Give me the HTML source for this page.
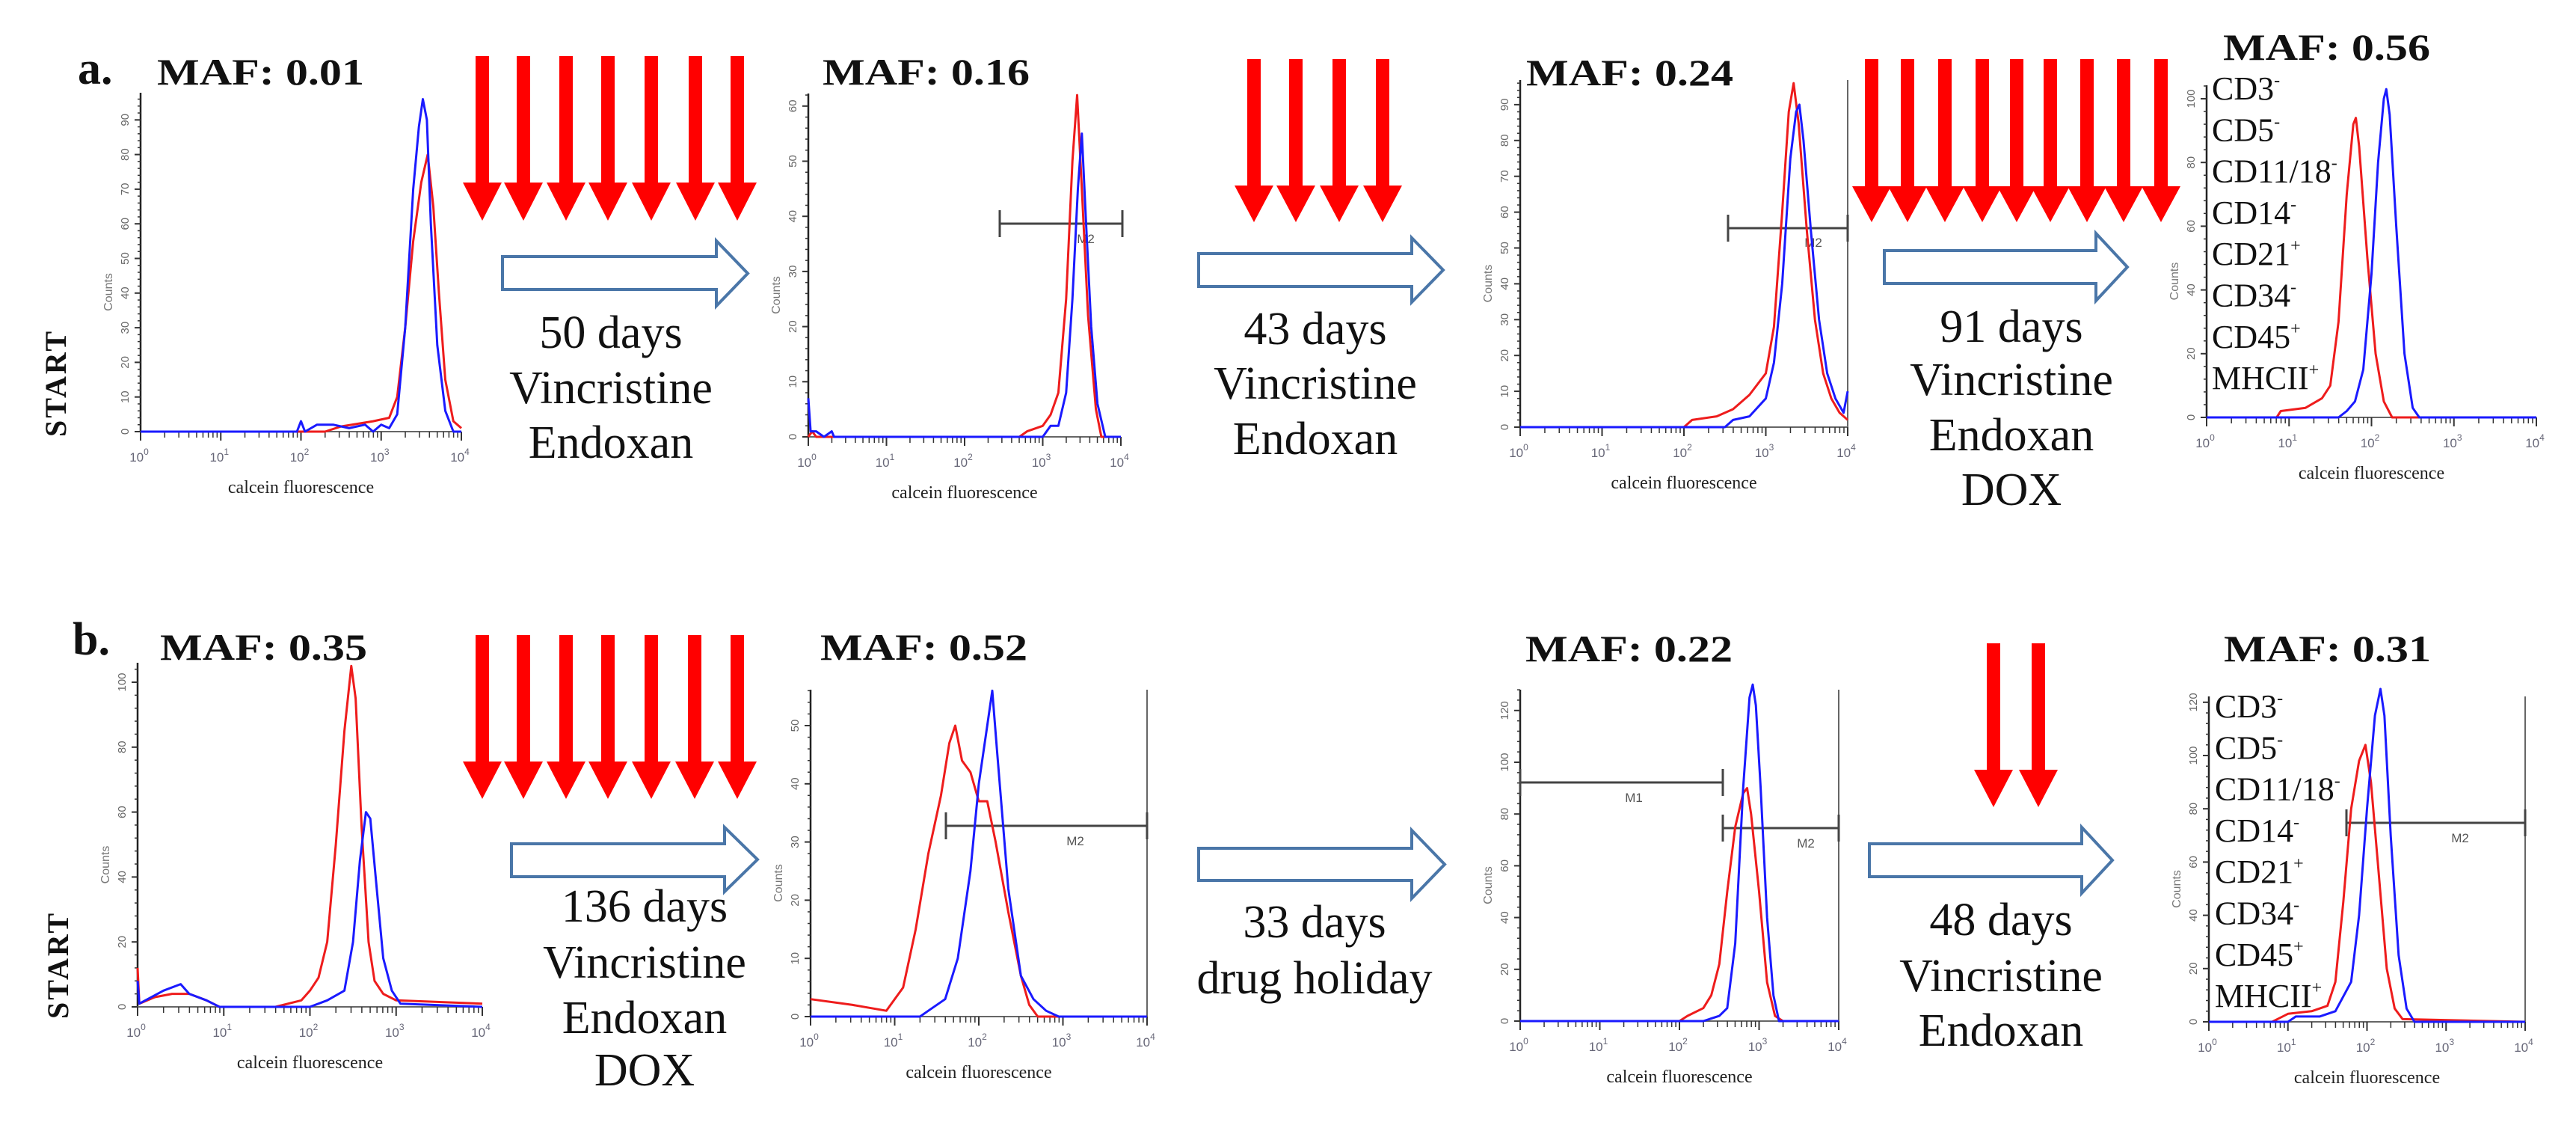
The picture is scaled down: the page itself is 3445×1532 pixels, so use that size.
<!DOCTYPE html>
<html><head><meta charset="utf-8"><style>
html,body{margin:0;padding:0;background:#fff}
svg{display:block}
</style></head><body>
<svg id="fig" width="3445" height="1532" viewBox="0 0 3445 1532" xmlns="http://www.w3.org/2000/svg" font-family="'Liberation Serif', serif"></svg>
<script>
// ---- data: histograms (x = log10 calcein fluorescence, y = counts) ----
const yTicksA1=[0,10,20,30,40,50,60,70,80,90];
const yTicksA2=[0,10,20,30,40,50,60];
const yTicksA3=[0,10,20,30,40,50,60,70,80,90];
const yTicksA4=[0,20,40,60,80,100];
const yTicksB1=[0,20,40,60,80,100];
const yTicksB2=[0,10,20,30,40,50];
const yTicksB3=[0,20,40,60,80,100,120];
const yTicksB4=[0,20,40,60,80,100,120];
const xDecades=[0,1,2,3,4];

const a1BlueX=[0,1.95,2.0,2.05,2.2,2.4,2.6,2.8,2.9,3.0,3.1,3.2,3.3,3.4,3.47,3.52,3.57,3.62,3.7,3.8,3.9,4.0];
const a1BlueY=[0,0,3,0,2,2,1,2,0,2,1,5,30,70,88,96,90,60,25,6,0,0];
const a1RedX=[0,2.3,2.5,2.9,3.1,3.2,3.3,3.4,3.5,3.58,3.65,3.72,3.8,3.9,4.0];
const a1RedY=[0,0,1.5,3,4,10,30,55,72,80,65,40,15,3,1];

const a2BlueX=[0,0.03,0.1,0.2,0.3,0.33,3.0,3.1,3.2,3.3,3.38,3.45,3.5,3.55,3.62,3.7,3.8,4.0];
const a2BlueY=[7,1,1,0,1,0,0,2,2,8,25,45,55,40,20,6,0,0];
const a2RedX=[0,0.05,0.1,2.7,2.8,3.0,3.1,3.2,3.3,3.38,3.44,3.5,3.58,3.68,3.75,4.0];
const a2RedY=[0,1,0,0,1,2,4,8,25,50,62,45,22,5,0,0];

const a3RedX=[0,2.0,2.1,2.4,2.6,2.8,3.0,3.1,3.2,3.28,3.34,3.4,3.5,3.6,3.7,3.8,3.9,4.0];
const a3RedY=[0,0,2,3,5,9,15,28,60,88,96,85,55,30,15,8,4,2];
const a3BlueX=[0,2.5,2.6,2.8,3.0,3.1,3.2,3.3,3.37,3.41,3.46,3.55,3.65,3.75,3.85,3.95,4.0];
const a3BlueY=[0,0,2,3,8,18,40,75,88,90,80,55,30,15,8,4,10];

const a4RedX=[0,0.85,0.9,1.2,1.4,1.5,1.6,1.7,1.78,1.81,1.85,1.95,2.05,2.15,2.25,4.0];
const a4RedY=[0,0,2,3,6,10,30,70,92,94,85,50,20,5,0,0];
const a4BlueX=[0,1.6,1.7,1.8,1.9,2.0,2.08,2.15,2.18,2.22,2.3,2.4,2.5,2.58,4.0];
const a4BlueY=[0,0,2,5,15,45,80,100,103,95,60,20,3,0,0];

const b1RedX=[0,0.02,0.2,0.4,0.6,0.8,0.95,1.6,1.9,2.0,2.1,2.2,2.3,2.4,2.48,2.53,2.6,2.68,2.75,2.85,3.0,4.0];
const b1RedY=[12,1,3,4,4,2,0,0,2,5,9,20,50,85,105,95,55,20,8,4,2,1];
const b1BlueX=[0,0.02,0.3,0.5,0.6,0.8,0.95,2.0,2.2,2.4,2.5,2.58,2.65,2.7,2.78,2.85,2.95,3.05,4.0];
const b1BlueY=[8,1,5,7,4,2,0,0,2,5,20,45,60,58,35,15,5,1,0];

const b2RedX=[0,0.5,0.9,1.1,1.25,1.4,1.55,1.65,1.72,1.8,1.9,2.0,2.1,2.2,2.35,2.5,2.6,2.7,4.0];
const b2RedY=[3,2,1,5,15,28,38,47,50,44,42,37,37,30,18,7,2,0,0];
const b2BlueX=[0,1.3,1.4,1.6,1.75,1.9,2.0,2.1,2.16,2.22,2.35,2.5,2.65,2.8,2.95,4.0];
const b2BlueY=[0,0,1,3,10,25,40,50,56,45,22,7,3,1,0,0];

const b3RedX=[0,2.0,2.1,2.3,2.4,2.5,2.6,2.7,2.8,2.85,2.9,3.0,3.1,3.2,3.3,4.0];
const b3RedY=[0,0,2,5,10,22,50,75,88,90,80,50,15,2,0,0];
const b3BlueX=[0,2.3,2.5,2.6,2.7,2.8,2.88,2.92,2.96,3.02,3.1,3.18,3.25,4.0];
const b3BlueY=[0,0,2,5,30,90,125,130,122,90,40,10,0,0];

const b4RedX=[0,0.8,1.0,1.3,1.5,1.6,1.7,1.8,1.9,1.98,2.05,2.15,2.25,2.35,2.45,4.0];
const b4RedY=[0,0,3,4,6,15,45,80,98,104,90,55,20,5,1,0];
const b4BlueX=[0,1.0,1.1,1.4,1.6,1.8,1.9,2.0,2.1,2.17,2.22,2.3,2.4,2.5,2.6,4.0];
const b4BlueY=[0,0,2,2,4,15,40,80,115,125,115,70,25,5,0,0];

const svg=document.getElementById('fig');
const NS='http://www.w3.org/2000/svg';
function mk(tag,attrs,parent){const e=document.createElementNS(NS,tag);for(const k in attrs)e.setAttribute(k,attrs[k]);(parent||svg).appendChild(e);return e;}

// panel geometry (pixels)
const panels=[
 {id:'a1',x0:188,x1:617,base:577,top:124,unit:46.3/10,ticks:yTicksA1,red:[a1RedX,a1RedY],blue:[a1BlueX,a1BlueY],frame:false,markers:[]},
 {id:'a2',x0:1081,x1:1499,base:584,top:125,unit:73.7/10,ticks:yTicksA2,red:[a2RedX,a2RedY],blue:[a2BlueX,a2BlueY],frame:false,markers:[{y:299,xa:1337,xb:1501,label:'M2',lx:1452,ly:325}]},
 {id:'a3',x0:2033,x1:2471,base:571,top:107,unit:47.9/10,ticks:yTicksA3,red:[a3RedX,a3RedY],blue:[a3BlueX,a3BlueY],frame:true,markers:[{y:305,xa:2311,xb:2471,label:'M2',lx:2425,ly:330}]},
 {id:'a4',x0:2951,x1:3392,base:558,top:114,unit:85.2/20,ticks:yTicksA4,red:[a4RedX,a4RedY],blue:[a4BlueX,a4BlueY],frame:false,markers:[]},
 {id:'b1',x0:184,x1:645,base:1346,top:886,unit:86.8/20,ticks:yTicksB1,red:[b1RedX,b1RedY],blue:[b1BlueX,b1BlueY],frame:false,markers:[]},
 {id:'b2',x0:1084,x1:1534,base:1359,top:922,unit:77.8/10,ticks:yTicksB2,red:[b2RedX,b2RedY],blue:[b2BlueX,b2BlueY],frame:true,markers:[{y:1104,xa:1265,xb:1534,label:'M2',lx:1438,ly:1130}]},
 {id:'b3',x0:2033,x1:2459,base:1365,top:922,unit:69.2/20,ticks:yTicksB3,red:[b3RedX,b3RedY],blue:[b3BlueX,b3BlueY],frame:true,markers:[{y:1046,xa:2033,xb:2304,label:'M1',lx:2185,ly:1072},{y:1107,xa:2304,xb:2459,label:'M2',lx:2415,ly:1133}]},
 {id:'b4',x0:2954,x1:3377,base:1366,top:931,unit:71.2/20,ticks:yTicksB4,red:[b4RedX,b4RedY],blue:[b4BlueX,b4BlueY],frame:true,markers:[{y:1100,xa:3138,xb:3377,label:'M2',lx:3290,ly:1126}]}
];

panels.forEach(p=>{
  const g=mk('g',{});
  
  
  const xs=v=>p.x0+(p.x1-p.x0)*v/4;
  const ys=v=>p.base-v*p.unit;
  // y axis
  const ya=mk('line',{x1:p.x0,y1:p.top,x2:p.x0,y2:p.base,stroke:'#222','stroke-width':2.5},g);
  
  
  // minor y ticks
  const step=p.ticks[1]-p.ticks[0];
  for(let v=0;ys(v)>=p.top;v+=step/5){mk('line',{x1:p.x0-4,y1:ys(v),x2:p.x0,y2:ys(v),stroke:'#333','stroke-width':1.5},g);}
  p.ticks.forEach(v=>{
    mk('line',{x1:p.x0-8,y1:ys(v),x2:p.x0,y2:ys(v),stroke:'#333','stroke-width':2},g);
    const t=mk('text',{x:0,y:0,transform:`translate(${p.x0-16},${ys(v)}) rotate(-90)`,'text-anchor':'middle','font-family':"'Liberation Sans',sans-serif",'font-size':15,fill:'#666'},g);
    t.textContent=v;
    
    
  });
  const cl=mk('text',{x:0,y:0,transform:`translate(${p.x0-38},${(p.top+p.base)/2+40}) rotate(-90)`,'text-anchor':'middle','font-family':"'Liberation Sans',sans-serif",'font-size':16,fill:'#777'},g);
  cl.textContent='Counts';
  
  
  // x axis
  const xa=mk('line',{x1:p.x0,y1:p.base,x2:p.x1,y2:p.base,stroke:'#666','stroke-width':2},g);
  
  
  xDecades.forEach(d=>{
    mk('line',{x1:xs(d),y1:p.base,x2:xs(d),y2:p.base+12,stroke:'#333','stroke-width':2},g);
    if(d<4){for(let k=2;k<10;k++){const lx=xs(d+Math.log10(k));mk('line',{x1:lx,y1:p.base,x2:lx,y2:p.base+8,stroke:'#333','stroke-width':1.5},g);}}
    const t=mk('text',{x:xs(d)-2,y:p.base+40,'text-anchor':'middle','font-family':"'Liberation Sans',sans-serif",'font-size':17,fill:'#667'},g);
    t.innerHTML='10<tspan dy="-9" font-size="12">'+d+'</tspan>';
    
    
  });
  const xl=mk('text',{x:(p.x0+p.x1)/2,y:p.base+82,'text-anchor':'middle','font-size':24,fill:'#222'},g);
  xl.textContent='calcein fluorescence';
  
  
  if(p.frame){mk('line',{x1:p.x1,y1:p.top,x2:p.x1,y2:p.base,stroke:'#666','stroke-width':2},g);}
  p.markers.forEach(m=>{
    const ml=mk('line',{x1:m.xa,y1:m.y,x2:m.xb,y2:m.y,stroke:'#444','stroke-width':3},g);
    
    
    mk('line',{x1:m.xa,y1:m.y-18,x2:m.xa,y2:m.y+18,stroke:'#444','stroke-width':3},g);
    mk('line',{x1:m.xb,y1:m.y-18,x2:m.xb,y2:m.y+18,stroke:'#444','stroke-width':3},g);
    const t=mk('text',{x:m.lx,y:m.ly,'font-family':"'Liberation Sans',sans-serif",'font-size':17,fill:'#555','text-anchor':'middle'},g);
    t.textContent=m.label;
    
    
  });
  [['red','#ee1c1c',p.red],['blue','#1a1aff',p.blue]].forEach(([nm,col,d])=>{
    const pts=d[0].map((v,i)=>xs(v).toFixed(1)+','+ys(d[1][i]).toFixed(1)).join(' ');
    const pl=mk('polyline',{points:pts,fill:'none',stroke:col,'stroke-width':3,'stroke-linejoin':'round'},g);
    
    
  });
});

// red drug arrows
const drugArrowX=[[645,700,757,813,871,930,986],[1677,1733,1791,1849],[2503,2551,2601,2651,2697,2742,2791,2840,2890],[645,700,757,813,871,929,986],[2666,2726]];
const drugArrowY=[[75,244,295],[79,248,297],[79,249,297],[849,1018,1068],[860,1029,1079]];
drugArrowX.forEach((grp,gi)=>{
  const [t,h,tip]=drugArrowY[gi];
  grp.forEach(x=>{
    const a=mk('polygon',{points:`${x-9},${t} ${x+9},${t} ${x+9},${h} ${x+26},${h} ${x},${tip} ${x-26},${h} ${x-9},${h}`,fill:'#ff0000'});
    
    
  });
});

// hollow time arrows [x0, shaftTop, shaftBot, headBaseX, headTop, headBot, tipX]
const timeArrows=[[672,343,387,958,322,409,1000],[1603,339,383,1888,318,404,1930],[2520,335,379,2803,312,402,2845],[684,1128,1172,969,1106,1192,1013],[1603,1134,1177,1888,1110,1201,1932],[2500,1128,1172,2784,1106,1194,2825]];
timeArrows.forEach(a=>{
  const [x0,s1,s2,hb,h1,h2,tx]=a;
  const e=mk('polygon',{points:`${x0},${s1} ${hb},${s1} ${hb},${h1} ${tx},${(h1+h2)/2} ${hb},${h2} ${hb},${s2} ${x0},${s2}`,fill:'#fff',stroke:'#4a76a8','stroke-width':4});
  
  
});

function txt(s,attrs,name){const t=mk('text',attrs);t.innerHTML=s;return t;}
// treatment texts
const treat=[[817,[465,539,612],['50 days','Vincristine','Endoxan']],[1759,[460,533,607],['43 days','Vincristine','Endoxan']],[2690,[457,528,602,675],['91 days','Vincristine','Endoxan','DOX']],[862,[1232,1307,1381,1451],['136 days','Vincristine','Endoxan','DOX']],[1758,[1253,1328],['33 days','drug holiday']],[2676,[1250,1325,1398],['48 days','Vincristine','Endoxan']]];
treat.forEach(([cx,ys,lines])=>{lines.forEach((l,i)=>txt(l,{x:cx,y:ys[i],'text-anchor':'middle','font-size':62,fill:'#111'},'treatment-label'));});

// MAF labels
[[210,113,'0.01'],[1100,113,'0.16'],[2041,114,'0.24'],[2973,80,'0.56'],[214,882,'0.35'],[1097,882,'0.52'],[2040,884,'0.22'],[2974,884,'0.31']].forEach(([x,y,v])=>{
  txt('MAF: '+v,{x:x,y:y,'font-size':50,'font-weight':'bold',fill:'#111',textLength:277,lengthAdjust:'spacingAndGlyphs'},'maf-label');
});
txt('a.',{x:104,y:112,'font-size':62,'font-weight':'bold',fill:'#111'},'panel-label-a');
txt('b.',{x:97,y:875,'font-size':62,'font-weight':'bold',fill:'#111'},'panel-label-b');
txt('START',{x:0,y:0,transform:'translate(88,512) rotate(-90)','text-anchor':'middle','font-size':40,'font-weight':'bold','letter-spacing':3,fill:'#111'},'start-label');
txt('START',{x:0,y:0,transform:'translate(91,1290) rotate(-90)','text-anchor':'middle','font-size':40,'font-weight':'bold','letter-spacing':3,fill:'#111'},'start-label');

// immunophenotype markers
const markerNames=['CD3','CD5','CD11/18','CD14','CD21','CD34','CD45','MHCII'];
const markerSigns=['-','-','-','-','+','-','+','+'];
[[2958,133],[2962,959]].forEach(([x,y0])=>{
  markerNames.forEach((m,i)=>{
    txt(m+'<tspan dy="-18" font-size="24">'+markerSigns[i]+'</tspan>',{x:x,y:y0+i*55.3,'font-size':44,fill:'#111'},'marker-label');
  });
});
</script>
</body></html>
